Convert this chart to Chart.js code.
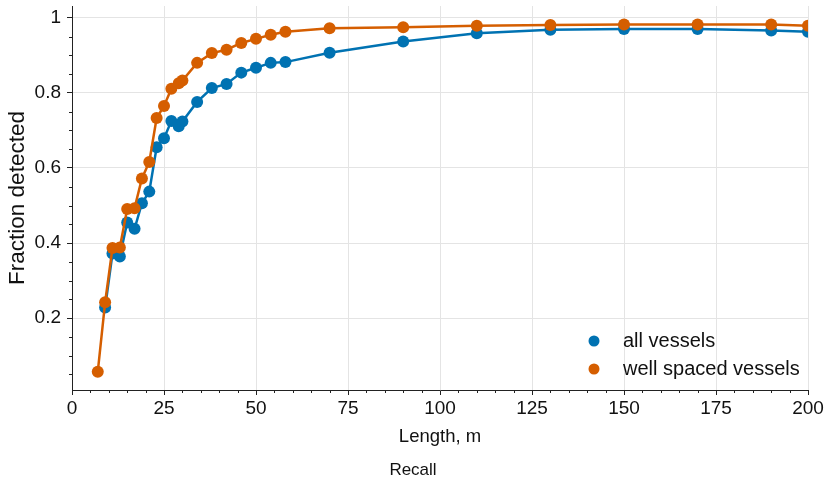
<!DOCTYPE html>
<html>
<head>
<meta charset="utf-8">
<script src="https://cdn.jsdelivr.net/npm/chart.js@4.4.1/dist/chart.umd.min.js"></script>
<style>
  html, body { margin: 0; padding: 0; background: #fff; }
  #wrap { width: 826px; height: 481px; }
</style>
</head>
<body>
<div id="wrap"><canvas id="recallChart" width="826" height="481"></canvas></div>
<script>
// vessel length bins, m
const lengths = [7, 9, 11, 13, 15, 17, 19, 21, 23, 25, 27, 29, 30, 34, 38, 42, 46, 50, 54, 58, 70, 90, 110, 130, 150, 170, 190, 200];
const allVessels = [null, 0.228, 0.372, 0.364, 0.455, 0.438, 0.506, 0.537, 0.655, 0.679, 0.725, 0.711, 0.724, 0.776, 0.813, 0.824, 0.854, 0.867, 0.880, 0.882, 0.907, 0.937, 0.959, 0.968, 0.970, 0.970, 0.966, 0.963];
const wellSpaced = [0.057, 0.242, 0.387, 0.388, 0.491, 0.493, 0.572, 0.616, 0.733, 0.765, 0.811, 0.826, 0.833, 0.880, 0.906, 0.915, 0.933, 0.944, 0.955, 0.963, 0.972, 0.975, 0.979, 0.981, 0.982, 0.982, 0.982, 0.979];
const seriesNames = ["all vessels", "well spaced vessels"];
const xTicks = [0, 25, 50, 75, 100, 125, 150, 175, 200];
const yTicks = [0.2, 0.4, 0.6, 0.8, 1];

const BLUE = "#0072b2";
const ORANGE = "#d55e00";
const FONT = "'Liberation Sans', Arial, sans-serif";

function toPoints(vals) {
  return lengths.map((x, i) => ({ x: x, y: vals[i] }));
}

// minor ticks + legend inside the plot (lower right, no frame)
const extras = {
  id: "extras",
  afterDraw(chart) {
    const ctx = chart.ctx;
    const xs = chart.scales.x, ys = chart.scales.y;
    const area = chart.chartArea;
    ctx.save();
    ctx.strokeStyle = "#222";
    ctx.lineWidth = 1;
    ctx.beginPath();
    for (let v = 5; v < 200; v += 5) {
      if (v % 25 === 0) continue;
      const px = Math.round(xs.getPixelForValue(v)) + 0.5;
      ctx.moveTo(px, area.bottom);
      ctx.lineTo(px, area.bottom + 3);
    }
    for (let k = 1; k * 0.05 < ys.max; k++) {
      if (k % 4 === 0) continue;
      const py = Math.round(ys.getPixelForValue(k * 0.05)) + 0.5;
      ctx.moveTo(area.left, py);
      ctx.lineTo(area.left - 3, py);
    }
    ctx.stroke();

    // legend
    ctx.font = "20px " + FONT;
    ctx.textBaseline = "middle";
    ctx.textAlign = "left";
    chart.data.datasets.forEach((ds, i) => {
      const cy = area.bottom - 49 + i * 28;
      ctx.fillStyle = ds.backgroundColor;
      ctx.beginPath();
      ctx.arc(area.right - 214, cy, 5.5, 0, Math.PI * 2);
      ctx.fill();
      ctx.fillStyle = "#111";
      ctx.fillText(ds.label, area.right - 185, cy);
    });
    ctx.restore();
  }
};

new Chart(document.getElementById("recallChart"), {
  type: "line",
  data: {
    datasets: [
      {
        label: seriesNames[0],
        data: toPoints(allVessels),
        borderColor: BLUE,
        backgroundColor: BLUE,
        borderWidth: 2.5,
        pointRadius: 6,
        pointBorderWidth: 0,
        pointHoverRadius: 6,
        tension: 0,
        order: 1
      },
      {
        label: seriesNames[1],
        data: toPoints(wellSpaced),
        borderColor: ORANGE,
        backgroundColor: ORANGE,
        borderWidth: 2.5,
        pointRadius: 6,
        pointBorderWidth: 0,
        pointHoverRadius: 6,
        tension: 0,
        order: 0
      }
    ]
  },
  options: {
    responsive: false,
    animation: false,
    layout: { padding: 0 },
    plugins: {
      legend: { display: false },
      tooltip: { enabled: false },
      title: {
        display: true,
        text: "Recall",
        position: "bottom",
        color: "#111",
        font: { family: FONT, size: 17, weight: "normal" },
        padding: { top: 0, bottom: 0 }
      }
    },
    scales: {
      x: {
        type: "linear",
        min: 0,
        max: 200,
        afterBuildTicks: s => { s.ticks = xTicks.map(v => ({ value: v })); },
        afterFit: s => { s.height = 70.6; s.paddingLeft = 0; s.paddingRight = 18; },
        grid: { color: "#e4e4e4", tickColor: "#222", tickLength: 5, drawTicks: true },
        border: { color: "#222", width: 1 },
        ticks: { color: "#111", font: { family: FONT, size: 19 }, padding: 2, maxRotation: 0 },
        title: {
          display: true,
          text: "Length, m",
          color: "#111",
          font: { family: FONT, size: 18.5 },
          padding: { top: 0, bottom: 13 }
        }
      },
      y: {
        type: "linear",
        min: 0.0085,
        max: 1.0315,
        afterBuildTicks: s => { s.ticks = yTicks.map(v => ({ value: v })); },
        afterFit: s => { s.width = 72; s.paddingTop = 5; s.paddingBottom = 0; },
        grid: { color: "#e4e4e4", tickColor: "#222", tickLength: 5 },
        border: { color: "#222", width: 1 },
        ticks: {
          color: "#111",
          font: { family: FONT, size: 19 },
          padding: 6,
          callback: v => String(Math.round(v * 10) / 10)
        },
        title: {
          display: true,
          text: "Fraction detected",
          color: "#111",
          font: { family: FONT, size: 22.5 },
          padding: { top: 4, bottom: 0 }
        }
      }
    }
  },
  plugins: [extras]
});
</script>
</body>
</html>
